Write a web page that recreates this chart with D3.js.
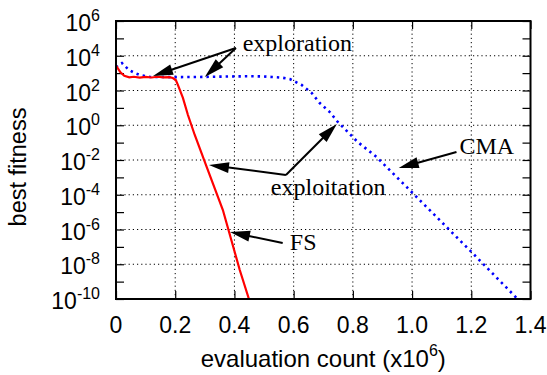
<!DOCTYPE html>
<html><head><meta charset="utf-8">
<script src="https://cdn.jsdelivr.net/npm/d3@7"></script>
<style>body{margin:0;background:#fff}svg{display:block}</style>
</head><body>
<script>
// ---- data ----
const fsX = [0.000, 0.004, 0.015, 0.028, 0.045, 0.060, 0.080, 0.100, 0.120, 0.140, 0.160, 0.180, 0.192, 0.202, 0.209, 0.226, 0.243, 0.266, 0.304, 0.361, 0.418, 0.449, 0.47];
const fsY = [1780, 2140, 1120, 710, 575, 617, 550, 603, 562, 617, 575, 589, 525, 398, 209, 37.2, 3.89, 0.275, 5.13e-3, 1.32e-5, 4.68e-9, 1e-10, 1e-11];
const cmaX = [0.000, 0.008, 0.020, 0.044, 0.064, 0.081, 0.115, 0.200, 0.280, 0.360, 0.440, 0.500, 0.526, 0.560, 0.587, 0.627, 0.661, 0.688, 0.722, 0.749, 0.816, 0.880, 0.992, 1.194, 1.353];
const cmaY = [2240, 3160, 3800, 1510, 1000, 776, 603, 589, 603, 631, 661, 646, 603, 550, 457, 209, 72.4, 19.1, 5.75, 1.55, 0.11, 0.0148, 1.86e-4, 6.6e-8, 1.15e-10];
const xTicks = [0, 0.2, 0.4, 0.6, 0.8, 1.0, 1.2, 1.4];
const xTickLabels = ["0", "0.2", "0.4", "0.6", "0.8", "1.0", "1.2", "1.4"];
const yMajorExp = [6, 4, 2, 0, -2, -4, -6, -8, -10];
const yAllExp = [6, 5, 4, 3, 2, 1, 0, -1, -2, -3, -4, -5, -6, -7, -8, -9, -10];
// annotations
const labelText = ["exploration", "exploitation", "CMA", "FS"];
const labelX = [0.428, 0.523, 1.160, 0.587];
const labelY = [1.86e4, 9.8e-5, 0.0224, 6.6e-8];
const arrowFrom = [[0.405, 2.8e4], [0.405, 2.8e4], [0.574, 1.38e-3], [0.574, 1.38e-3], [1.150, 0.0288], [0.563, 1.66e-7]];
const arrowTo = [[0.125, 676], [0.300, 603], [0.314, 5.13e-3], [0.746, 1.17], [0.955, 3.47e-3], [0.385, 7.2e-7]];

// ---- layout ----
const W = 547, H = 375;
const L = 116, R = 530.5, T = 21, B = 299;
const svg = d3.select("body").append("svg").attr("width", W).attr("height", H);
const x = d3.scaleLinear().domain([0, 1.4]).range([L, R]);
const y = d3.scaleLog().domain([1e-10, 1e6]).range([B, T]);
const sans = "'Liberation Sans', Arial, Helvetica, sans-serif";
const serif = "'Liberation Serif', 'Times New Roman', serif";

// grid
const grid = svg.append("g").attr("stroke", "#000").attr("stroke-width", 1).attr("stroke-dasharray", "1.2,3");
grid.selectAll("line.gx").data(xTicks.slice(1, -1)).join("line")
  .attr("x1", d => x(d)).attr("x2", d => x(d)).attr("y1", T).attr("y2", B);
grid.selectAll("line.gy").data(yMajorExp.slice(1, -1)).join("line")
  .attr("y1", d => y(Math.pow(10, d))).attr("y2", d => y(Math.pow(10, d))).attr("x1", L).attr("x2", R);

// axes (inward ticks)
const yTickVals = yAllExp.map(e => Math.pow(10, e));
function styleAxis(g) { g.select(".domain").remove(); g.selectAll("line").attr("stroke", "#000").attr("stroke-width", 1.2); g.selectAll("text").remove(); }
svg.append("g").attr("transform", `translate(${L},0)`).call(d3.axisLeft(y).tickValues(yTickVals).tickSize(-8).tickFormat("")).call(styleAxis);
svg.append("g").attr("transform", `translate(${R},0)`).call(d3.axisRight(y).tickValues(yTickVals).tickSize(-8).tickFormat("")).call(styleAxis);
svg.append("g").attr("transform", `translate(0,${B})`).call(d3.axisBottom(x).tickValues(xTicks).tickSize(-8).tickFormat("")).call(styleAxis);
svg.append("g").attr("transform", `translate(0,${T})`).call(d3.axisTop(x).tickValues(xTicks).tickSize(-8).tickFormat("")).call(styleAxis);

// clip
svg.append("clipPath").attr("id", "clip").append("rect").attr("x", L).attr("y", T).attr("width", R - L).attr("height", B - T);

const line = d3.line().x(d => x(d[0])).y(d => y(d[1]));
const plot = svg.append("g").attr("clip-path", "url(#clip)");
plot.append("path").datum(cmaX.map((v, i) => [v, cmaY[i]]))
  .attr("d", line).attr("fill", "none").attr("stroke", "#0000ff").attr("stroke-width", 2.6)
  .attr("stroke-dasharray", "2.4,4");
plot.append("path").datum(fsX.map((v, i) => [v, fsY[i]]))
  .attr("d", line).attr("fill", "none").attr("stroke", "#ff0000").attr("stroke-width", 2.2);

// frame
svg.append("rect").attr("x", L).attr("y", T).attr("width", R - L).attr("height", B - T)
  .attr("fill", "none").attr("stroke", "#000").attr("stroke-width", 2);

// y tick labels
const yl = svg.append("g").attr("font-family", sans).attr("fill", "#000");
yMajorExp.forEach(e => {
  const t = yl.append("text").attr("x", 100).attr("y", y(Math.pow(10, e)) + 10).attr("text-anchor", "end").attr("font-size", 23);
  t.append("tspan").text("10");
  t.append("tspan").attr("dy", -10).attr("font-size", 16).text(String(e));
});
// x tick labels
const xl = svg.append("g").attr("font-family", sans).attr("font-size", 23).attr("fill", "#000");
xl.selectAll("text").data(xTicks).join("text")
  .attr("x", d => x(d)).attr("y", B + 34).attr("text-anchor", "middle").text((d, i) => xTickLabels[i]);

// axis titles
const xt = svg.append("text").attr("x", (L + R) / 2).attr("y", 367).attr("text-anchor", "middle")
  .attr("font-family", sans).attr("font-size", 24);
xt.append("tspan").text("evaluation count (x10");
xt.append("tspan").attr("dy", -11).attr("font-size", 16).text("6");
xt.append("tspan").attr("dy", 11).text(")");
svg.append("text").attr("transform", `translate(26,167) rotate(-90)`).attr("text-anchor", "middle")
  .attr("font-family", sans).attr("font-size", 23.5).text("best fitness");

// annotations
const ann = svg.append("g");
arrowFrom.forEach((f, i) => {
  const x1 = x(f[0]), y1 = y(f[1]), x2 = x(arrowTo[i][0]), y2 = y(arrowTo[i][1]);
  const dx = x2 - x1, dy = y2 - y1, len = Math.hypot(dx, dy), ux = dx / len, uy = dy / len;
  const hl = 20, hw = 5.5;
  const bx = x2 - ux * hl, by = y2 - uy * hl;
  ann.append("line").attr("x1", x1).attr("y1", y1).attr("x2", bx + ux * 2).attr("y2", by + uy * 2)
    .attr("stroke", "#000").attr("stroke-width", 2);
  ann.append("path").attr("d", `M${x2},${y2}L${bx - uy * hw},${by + ux * hw}L${bx + uy * hw},${by - ux * hw}Z`).attr("fill", "#000");
});
ann.selectAll("text").data(labelText).join("text")
  .attr("x", (d, i) => x(labelX[i])).attr("y", (d, i) => y(labelY[i]))
  .attr("font-family", serif).attr("font-size", 24).attr("fill", "#000").text(d => d);
</script>
</body></html>
